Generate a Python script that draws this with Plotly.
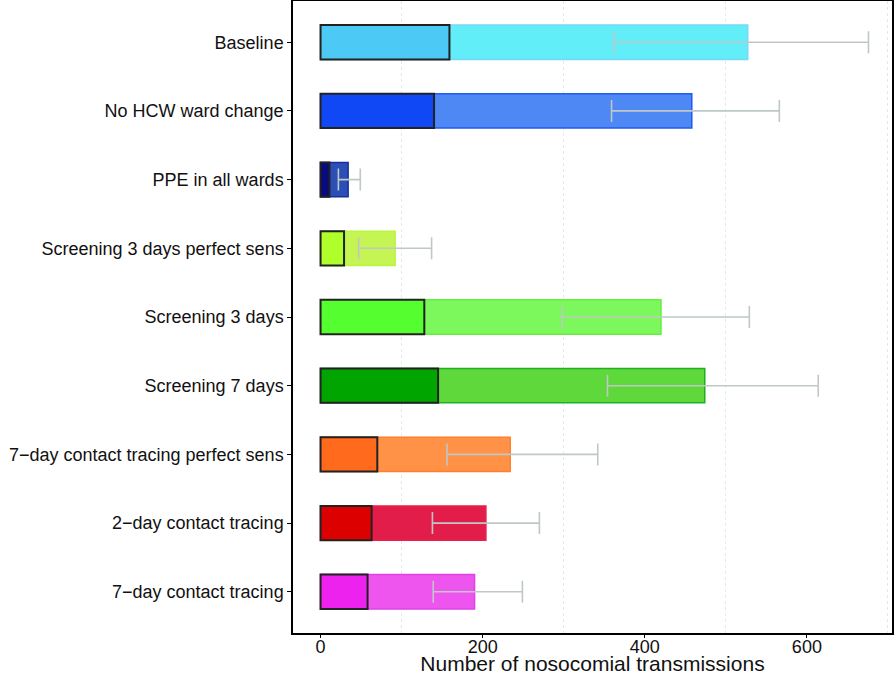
import plotly.graph_objects as go

categories = [
    "Baseline",
    "No HCW ward change",
    "PPE in all wards",
    "Screening 3 days perfect sens",
    "Screening 3 days",
    "Screening 7 days",
    "7\u2212day contact tracing perfect sens",
    "2\u2212day contact tracing",
    "7\u2212day contact tracing",
]
# total transmissions (light bar), subset (dark bar), error range
total_vals = [527, 458, 34, 92, 420, 474, 234, 204, 190]
dark_vals = [159, 140, 11, 29, 128, 145, 70, 63, 58]
err_low = [362, 359, 22, 47, 298, 354, 156, 138, 139]
err_high = [676, 566, 49, 137, 529, 614, 342, 270, 249]

dark_colors = ["#4DC9F5", "#1048F5", "#0A0A80", "#AFFF2A", "#55FF2F",
               "#00A500", "#FF6A1C", "#DD0000", "#EE22EE"]
light_colors = ["#62EEF8", "#4E88F5", "#2C4FB5", "#C4F553", "#7CF75C",
                "#5ED83A", "#FF9246", "#E31D4A", "#EE55EE"]
light_edges = ["#7AD6F8", "#1E5CF2", "#1A2FA0", "#B8F540", "#66EE44",
               "#1EB01E", "#FF7F30", "#E8204A", "#E040E8"]

fig = go.Figure()
fig.add_trace(go.Bar(
    y=categories, x=total_vals, orientation="h", width=0.5,
    marker=dict(color=light_colors, line=dict(color=light_edges, width=1.5)),
    showlegend=False, hoverinfo="x+y",
))
fig.add_trace(go.Bar(
    y=categories, x=dark_vals, orientation="h", width=0.5,
    marker=dict(color=dark_colors, line=dict(color="#222222", width=2)),
    showlegend=False, hoverinfo="x+y",
))
mid = [(lo + hi) / 2 for lo, hi in zip(err_low, err_high)]
half = [(hi - lo) / 2 for lo, hi in zip(err_low, err_high)]
fig.add_trace(go.Scatter(
    y=categories, x=mid, mode="markers",
    marker=dict(size=0.1, color="rgba(0,0,0,0)"),
    error_x=dict(type="data", array=half, symmetric=True,
                 color="#BFC7C7", thickness=1.6, width=11),
    showlegend=False, hoverinfo="skip",
))

fig.update_layout(
    width=895, height=675,
    margin=dict(l=293, r=3, t=1, b=42),
    barmode="overlay",
    plot_bgcolor="white", paper_bgcolor="white",
    font=dict(family="Liberation Sans, Arial, sans-serif", color="#111111", size=18),
)
fig.update_xaxes(
    automargin=False,
    range=[-34, 705], tickvals=[0, 200, 400, 600],
    showgrid=False, zeroline=False,
    minor=dict(tickvals=[100, 300, 500, 700], showgrid=True,
               gridcolor="#E4E9EE", griddash="dot", gridwidth=1, ticks=""),
    showline=True, linecolor="black", linewidth=1.5, mirror=True,
    ticks="outside", ticklen=3, tickcolor="black", tickwidth=1,
    tickfont=dict(size=18), ticklabelstandoff=-6,
    title=dict(text="Number of nosocomial transmissions", font=dict(size=21), standoff=9),
)
fig.update_yaxes(
    automargin=False,
    categoryorder="array", categoryarray=categories[::-1],
    range=[-0.6, 8.6], showgrid=False, zeroline=False,
    showline=True, linecolor="black", linewidth=1.5, mirror=True,
    ticks="outside", ticklen=4, tickcolor="black", tickwidth=1,
    tickfont=dict(size=18),
)

fig.write_html("out.html", config={"displayModeBar": False},
               post_script="document.body.style.margin='0px';")
